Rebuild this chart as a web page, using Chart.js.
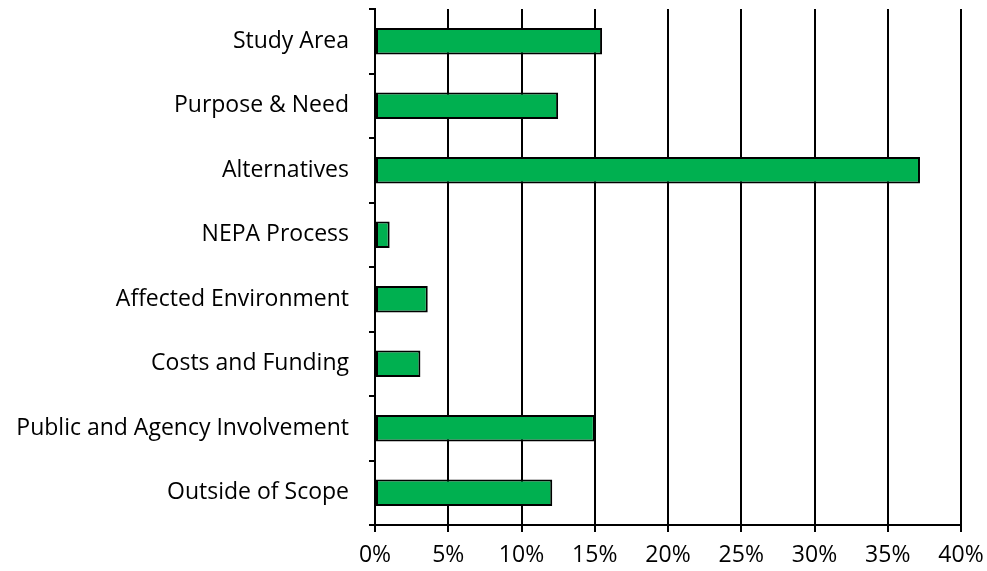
<!DOCTYPE html>
<html>
<head>
<meta charset="utf-8">
<script src="https://cdn.jsdelivr.net/npm/chart.js@4"></script>
<style>
  html, body { margin: 0; padding: 0; background: #fff; }
</style>
</head>
<body>
<canvas id="topicChart" width="987" height="571"></canvas>
<script>
// comment share by topic, in percent
const categories = ['Study Area', 'Purpose & Need', 'Alternatives', 'NEPA Process',
    'Affected Environment', 'Costs and Funding', 'Public and Agency Involvement', 'Outside of Scope'];
const shares = [15.5, 12.5, 37.2, 1.0, 3.6, 3.1, 15.0, 12.1];
const xMax = 40;
const xStep = 5;

const labelFont = { family: '"Open Sans", sans-serif', size: 23 };

document.addEventListener('DOMContentLoaded', function() {
    const ctx = document.getElementById('topicChart').getContext('2d');
    new Chart(ctx, {
        type: 'bar',
        data: {
            labels: categories,
            datasets: [{
                data: shares,
                backgroundColor: '#00B050',
                borderColor: '#000',
                borderWidth: 2,
                borderSkipped: false,
                categoryPercentage: 1,
                barPercentage: 0.41
            }]
        },
        options: {
            indexAxis: 'y',
            responsive: false,
            animation: false,
            layout: { padding: { left: 0, right: 26, top: 9, bottom: 0 } },
            plugins: {
                legend: { display: false },
                tooltip: { enabled: false }
            },
            scales: {
                x: {
                    min: 0,
                    max: xMax,
                    afterFit: s => { s.height = 46; s.paddingLeft = 0; s.paddingRight = 0; },
                    ticks: {
                        stepSize: xStep,
                        color: '#000',
                        padding: 10,
                        font: labelFont,
                        callback: v => v + '%'
                    },
                    grid: { color: '#000', lineWidth: 2, tickLength: 7 },
                    border: { color: '#000', width: 2 }
                },
                y: {
                    afterFit: s => { s.width = 375; s.paddingTop = 0; s.paddingBottom = 0; },
                    ticks: {
                        color: '#000',
                        padding: 20,
                        font: labelFont
                    },
                    grid: { drawOnChartArea: false, color: '#000', lineWidth: 2, tickLength: 6, offset: true },
                    border: { color: '#000', width: 2 }
                }
            }
        }
    });
});
</script>
</body>
</html>
